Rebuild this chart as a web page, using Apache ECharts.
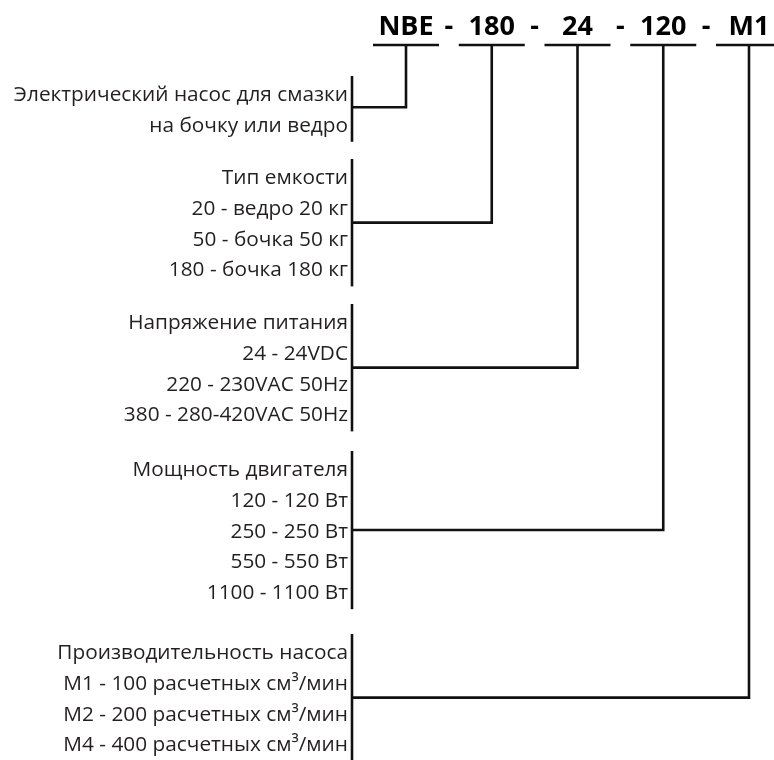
<!DOCTYPE html>
<html>
<head>
<meta charset="utf-8">
<script src="https://cdn.jsdelivr.net/npm/echarts@6/dist/echarts.min.js"></script>
<style>html,body{margin:0;padding:0;background:#fff}#chart{width:774px;height:760px}</style>
</head>
<body>
<div id="chart"></div>
<script>
// ---- content ----
const codeParts = ['NBE', '180', '24', '120', 'M1'];
const groupPump = ['Электрический насос для смазки', 'на бочку или ведро'];
const groupContainer = ['Тип емкости', '20 - ведро 20 кг', '50 - бочка 50 кг', '180 - бочка 180 кг'];
const groupVoltage = ['Напряжение питания', '24 - 24VDC', '220 - 230VAC 50Hz', '380 - 280-420VAC 50Hz'];
const groupMotor = ['Мощность двигателя', '120 - 120 Вт', '250 - 250 Вт', '550 - 550 Вт', '1100 - 1100 Вт'];
const groupFlow = ['Производительность насоса', 'M1 - 100 расчетных см³/мин', 'M2 - 200 расчетных см³/мин', 'M4 - 400 расчетных см³/мин'];
const groups = [groupPump, groupContainer, groupVoltage, groupMotor, groupFlow];
// row (in line units) at which each code branch joins its group bracket
const connectorRow = [0.4, 1.45, 1.45, 1.95, 1.45];

// ---- layout (data units of a 774 x 760 plane) ----
const L = {
  textRight: 348, bracketX: 352,
  codeX0: 406, codeStep: 85.75, codeY: 27, underlineY: 45, underlineHalf: 33,
  groupTop: [95, 178, 323, 470, 653], rowStep: 30.8,
  padTop: 19, padBottom: 16,
  lineColor: '#111', textColor: '#231f20', lw: 2.6
};

const chart = echarts.init(document.getElementById('chart'), null, {renderer: 'canvas'});

function groupRender(params, api) {
  const gi = api.value(0);
  const lines = groups[gi];
  const top = L.groupTop[gi];
  const children = [];
  lines.forEach((t, i) => {
    const p = api.coord([L.textRight, top + i * L.rowStep]);
    children.push({type: 'text', style: {text: t, x: p[0], y: p[1], align: 'right', verticalAlign: 'middle',
      font: '20.8px "Open Sans", sans-serif', fill: L.textColor}});
  });
  const b0 = api.coord([L.bracketX, top - L.padTop]);
  const b1 = api.coord([L.bracketX, top + (lines.length - 1) * L.rowStep + L.padBottom]);
  children.push({type: 'line', shape: {x1: b0[0], y1: b0[1], x2: b1[0], y2: b1[1]},
    style: {stroke: L.lineColor, lineWidth: L.lw}});
  const cy = top + connectorRow[gi] * L.rowStep;
  const cx = L.codeX0 + gi * L.codeStep;
  const pts = [[L.bracketX, cy], [cx, cy], [cx, L.underlineY]].map(q => api.coord(q));
  children.push({type: 'polyline', shape: {points: pts},
    style: {stroke: L.lineColor, lineWidth: L.lw, fill: null, lineJoin: 'miter'}});
  return {type: 'group', children};
}

function codeRender(params, api) {
  const i = api.value(0);
  const cx = L.codeX0 + i * L.codeStep;
  const children = [];
  const pt = api.coord([cx, L.codeY]);
  children.push({type: 'text', style: {text: codeParts[i], x: pt[0], y: pt[1], align: 'center', verticalAlign: 'middle',
    font: 'bold 27px "Open Sans", sans-serif', fill: '#000'}});
  const u0 = api.coord([cx - L.underlineHalf, L.underlineY]);
  const u1 = api.coord([cx + L.underlineHalf, L.underlineY]);
  children.push({type: 'line', shape: {x1: u0[0], y1: u0[1], x2: u1[0], y2: u1[1]},
    style: {stroke: L.lineColor, lineWidth: L.lw}});
  if (i < codeParts.length - 1) {
    const d = api.coord([cx + L.codeStep / 2, L.codeY]);
    children.push({type: 'text', style: {text: '-', x: d[0], y: d[1], align: 'center', verticalAlign: 'middle',
      font: 'bold 27px "Open Sans", sans-serif', fill: '#000'}});
  }
  return {type: 'group', children};
}

chart.setOption({
  animation: false,
  grid: {left: 0, right: 0, top: 0, bottom: 0},
  xAxis: {type: 'value', min: 0, max: 774, show: false},
  yAxis: {type: 'value', min: 0, max: 760, inverse: true, show: false},
  series: [
    {type: 'custom', renderItem: groupRender, clip: false, data: groups.map((g, i) => [i])},
    {type: 'custom', renderItem: codeRender, clip: false, data: codeParts.map((c, i) => [i])}
  ]
});
</script>
</body>
</html>
